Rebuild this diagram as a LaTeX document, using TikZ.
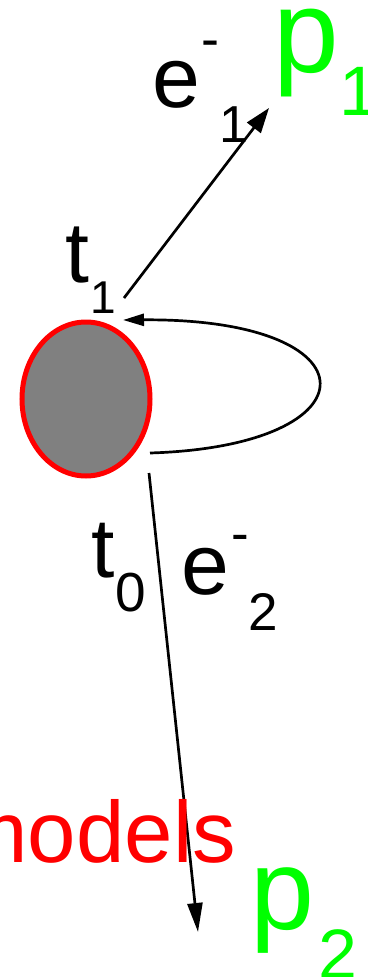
\documentclass[tikz,border=0pt]{standalone}
\usepackage{fontspec}
\setmainfont{Liberation Sans}
\usetikzlibrary{shapes.geometric,arrows.meta}
\definecolor{pgreen}{RGB}{0,255,0}
\definecolor{pred}{RGB}{255,0,0}
\begin{document}
\begin{tikzpicture}[x=1pt,y=-1pt,
  lbl/.style={anchor=base west,inner sep=0pt,outer sep=0pt},
  conn/.style={line width=2.7pt},
]
\clip (0,0) rectangle (367,977);
% state
\node[ellipse,minimum width=128pt,minimum height=154pt,inner sep=0pt,
      draw=pred,line width=5pt,fill=gray] (blob) at (86,399) {};
% connector end points
\coordinate (s1) at (124,298);
\coordinate (e1) at (269,108);
\coordinate (ls) at (150,453);
\coordinate (le) at (123,320);
\coordinate (s2) at (149,473);
\coordinate (e2) at (198,932);
% connectors
\draw[conn,-{Triangle[length=25pt,width=17pt]}] (s1) -- (e1);
\draw[conn,-{Triangle[length=21pt,width=12pt]}] (ls) .. controls (378,446) and (378,318) .. (le);
\draw[conn,-{Triangle[length=29pt,width=15pt]}] (s2) -- (e2);
% labels
\node[lbl,font=\fontsize{86}{86}\selectfont] (e1t) at (152,107) {e};
\node[lbl,font=\fontsize{54}{54}\selectfont] (e1sup) at (201,57) {-};
\node[lbl,font=\fontsize{52}{52}\selectfont] (e1sub) at (219,142) {1};
\node[lbl,font=\fontsize{118}{118}\selectfont,text=pgreen] (p1) at (273,72) {p};
\node[lbl,font=\fontsize{70}{70}\selectfont,text=pgreen] (p1sub) at (339,115) {1};
\node[lbl,font=\fontsize{86}{86}\selectfont] (t1) at (65.5,282) {t};
\node[lbl,font=\fontsize{46}{46}\selectfont] (t1sub) at (90,313) {1};
\node[lbl,font=\fontsize{84}{84}\selectfont] (t0) at (91.5,577) {t};
\node[lbl,font=\fontsize{55}{55}\selectfont] (t0sub) at (115.7,611) {0};
\node[lbl,font=\fontsize{86}{86}\selectfont] (e2t) at (181.5,594) {e};
\node[lbl,font=\fontsize{53}{53}\selectfont] (e2sup) at (231,551) {-};
\node[lbl,font=\fontsize{53}{53}\selectfont] (e2sub) at (248,630) {2};
\node[lbl,font=\fontsize{87}{87}\selectfont,text=pred] (models) at (-44.5,862) {models};
\node[lbl,font=\fontsize{115}{115}\selectfont,text=pgreen] (p2) at (250,929) {p};
\node[lbl,font=\fontsize{70}{70}\selectfont,text=pgreen] (p2sub) at (318,978) {2};
\end{tikzpicture}
\end{document}
